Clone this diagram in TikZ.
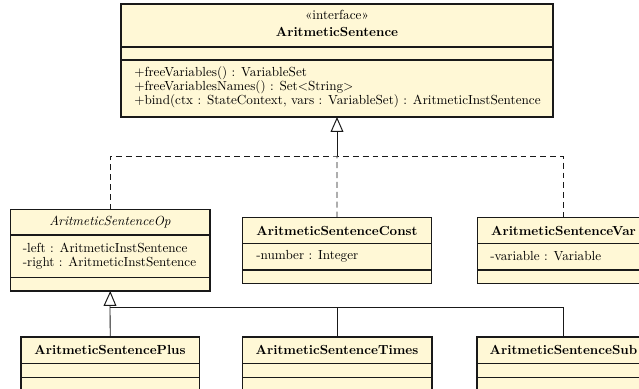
\documentclass[tikz,border=0pt]{standalone}
\usetikzlibrary{arrows.meta,fit}
\definecolor{classfill}{RGB}{255,248,214}
\definecolor{lineclr}{RGB}{25,25,25}
\begin{document}
\begin{tikzpicture}[x=0.76pt,y=-0.76pt,
  classbox/.style={draw=lineclr, line width=0.8pt, fill=classfill, inner sep=0pt, outer sep=0pt, rectangle},
  divider/.style={draw=lineclr, line width=0.8pt},
  txt/.style={inner sep=0pt, font=\normalsize},
  ttl/.style={inner sep=0pt, font=\normalsize\bfseries},
  lft/.style={txt, anchor=west},
  conn/.style={draw=lineclr, line width=0.65pt},
  dconn/.style={conn, dash pattern=on 4.5pt off 3pt},
  inh/.style={-{Triangle[open, length=11.3pt, width=9.7pt, line width=0.75pt]}}
]
\useasboundingbox (0,0) rectangle (639,389);
\clip (0,0) rectangle (639,389);

% interface
\node[classbox, fit={(121,4) (553,117)}] (top) {};
\draw[divider] (121,47) -- (553,47);
\draw[divider] (121,60) -- (553,60);
\node[txt] (stereo) at (337,14.5) {\guillemotleft interface\guillemotright};
\node[ttl] (topname) at (337,32) {AritmeticSentence};
\node[lft] (m1) at (134,73) {+freeVariables() : VariableSet};
\node[lft] (m2) at (134,87) {+freeVariablesNames() : Set\textless String\textgreater};
\node[lft] (m3) at (134,101.5) {+bind(ctx : StateContext, vars : VariableSet) : AritmeticInstSentence};

% Op
\node[classbox, fit={(10.5,209.5) (210,291)}] (op) {};
\draw[divider] (10.5,235) -- (210,235);
\draw[divider] (10.5,277.5) -- (210,277.5);
\node[txt, font=\normalsize\itshape] (opname) at (110,222.5) {AritmeticSentenceOp};
\node[lft] (a1) at (22.5,248) {-left : AritmeticInstSentence};
\node[lft] (a2) at (22.5,263.5) {-right : AritmeticInstSentence};

% Const
\node[classbox, fit={(242.5,217.5) (431.5,283.5)}] (const) {};
\draw[divider] (242.5,243.5) -- (431.5,243.5);
\draw[divider] (242.5,270) -- (431.5,270);
\node[ttl] (constname) at (337,230.5) {AritmeticSentenceConst};
\node[lft] (c1) at (256,256.5) {-number : Integer};

% Var
\node[classbox, fit={(477.5,217.5) (649,283.5)}] (var) {};
\draw[divider] (477.5,243.5) -- (649,243.5);
\draw[divider] (477.5,270) -- (649,270);
\node[ttl] (varname) at (563.5,230.5) {AritmeticSentenceVar};
\node[lft] (v1) at (490,256.5) {-variable : Variable};

% bottom row
\node[classbox, fit={(21,337) (199.5,400)}] (plus) {};
\draw[divider] (21,363.5) -- (199.5,363.5);
\draw[divider] (21,377.5) -- (199.5,377.5);
\node[ttl] (plusname) at (110,350) {AritmeticSentencePlus};

\node[classbox, fit={(242.5,337) (432,400)}] (times) {};
\draw[divider] (242.5,363.5) -- (432,363.5);
\draw[divider] (242.5,377.5) -- (432,377.5);
\node[ttl] (timesname) at (337,350) {AritmeticSentenceTimes};

\node[classbox, fit={(477,337) (650,400)}] (sub) {};
\draw[divider] (477,363.5) -- (650,363.5);
\draw[divider] (477,377.5) -- (650,377.5);
\node[ttl] (subname) at (563.5,350) {AritmeticSentenceSub};

% realization connectors
\coordinate (j1) at (337,156);
\draw[dconn] (op.north) |- (j1) -| (var.north);
\draw[dconn] (const.north) -- (j1);
\draw[conn, inh] (j1) -- (top.south);

% generalization connectors
\coordinate (j2) at (110,307);
\draw[conn] (plus.north) -- (j2);
\draw[conn] (times.north) |- (j2);
\draw[conn] (sub.north) |- (j2);
\draw[conn, inh] (j2) -- (op.south);
\end{tikzpicture}
\end{document}
